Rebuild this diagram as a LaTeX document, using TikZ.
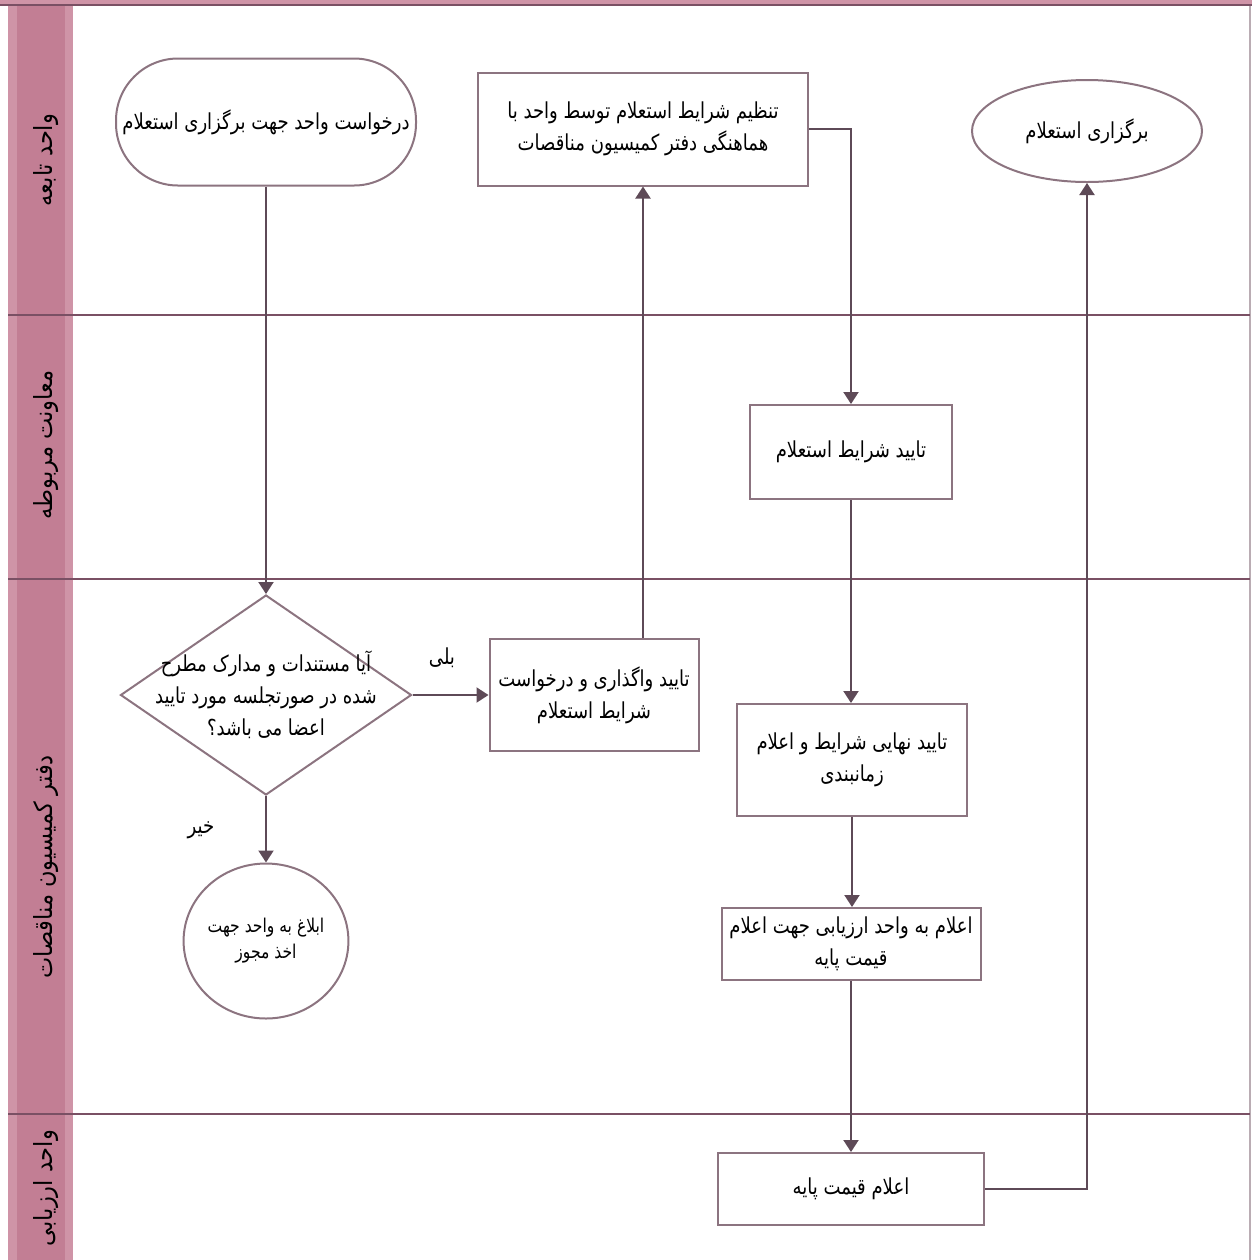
\documentclass[tikz,border=0pt]{standalone}
\usepackage{fontspec}
\TeXXeTstate=1
\newfontfamily\arabicfont[Script=Arabic,FakeStretch=0.82]{DejaVu Sans}
\newfontfamily\lanefont[Script=Arabic,FakeStretch=0.9]{DejaVu Sans}
\usetikzlibrary{shapes.geometric,arrows.meta}

\definecolor{lanepink}{HTML}{CF94A7}
\definecolor{lanepinkd}{HTML}{C27E94}
\definecolor{laneline}{HTML}{7A5064}
\definecolor{nodeline}{HTML}{8C7480}
\definecolor{flow}{HTML}{5E4A57}

% right-to-left line of Persian text
\newcommand{\fa}[1]{\beginR #1\endR}

\tikzset{
  txt/.style={font=\arabicfont\fontsize{11}{16}\selectfont, align=center, text=black},
  stepbox/.style={txt, draw=nodeline, line width=1pt, fill=white, rectangle, inner sep=0pt},
  startbox/.style={stepbox, rounded corners=31pt},
  endshape/.style={txt, draw=nodeline, line width=1pt, fill=white, ellipse, inner sep=0pt},
  decision/.style={draw=nodeline, line width=1pt, fill=white, diamond, inner sep=0pt},
  flowline/.style={draw=flow, line width=1pt, -{Triangle[width=7.5pt,length=6pt]}},
  lanetitle/.style={font=\lanefont\fontsize{12.5}{14}\selectfont, rotate=90, text=black},
  divider/.style={draw=laneline, line width=1pt}
}

\begin{document}
\begin{tikzpicture}[x=0.5pt,y=-0.5pt]
\useasboundingbox (0,0) rectangle (1252,1260);

% header band and lane title column
\fill[lanepink] (0,0) rectangle (1252,5);
\fill[lanepink] (8,5) rectangle (73,1260);
\fill[lanepinkd] (17,5) rectangle (65,1260);
\draw[draw=nodeline!60, line width=0.8pt] (1250,5) -- (1250,1260);

% lane dividers
\draw[divider] (0,5) -- (1252,5);
\draw[divider] (8,315) -- (1250,315);
\draw[divider] (8,579) -- (1250,579);
\draw[divider] (8,1114) -- (1250,1114);

% lane titles
\node[lanetitle] (laneA) at (46,160) {\fa{واحد تابعه}};
\node[lanetitle] (laneB) at (46,445) {\fa{معاونت مربوطه}};
\node[lanetitle] (laneC) at (46,867) {\fa{دفتر کمیسیون مناقصات}};
\node[lanetitle] (laneD) at (46,1188) {\fa{واحد ارزیابی}};

% process steps
\node[startbox, minimum width=150pt, minimum height=63.5pt] (start) at (266,122)
  {\fa{درخواست واحد جهت برگزاری استعلام}};
\node[stepbox, minimum width=165pt, minimum height=56.5pt] (setup) at (643,129)
  {\fa{تنظیم شرایط استعلام توسط واحد با}\\\fa{هماهنگی دفتر کمیسیون مناقصات}};
\node[endshape, minimum width=115pt, minimum height=51pt] (finish) at (1087,131)
  {\fa{برگزاری استعلام}};
\node[stepbox, minimum width=101pt, minimum height=47pt] (approve) at (851,452)
  {\fa{تایید شرایط استعلام}};
\node[decision, minimum width=145.5pt, minimum height=100pt] (check) at (266,695) {};
\node[txt] (checktext) at (266,695)
  {\fa{آیا مستندات و مدارک مطرح}\\\fa{شده در صورتجلسه مورد تایید}\\\fa{اعضا می باشد؟}};
\node[stepbox, minimum width=104.5pt, minimum height=56pt] (assign) at (594,695)
  {\fa{تایید واگذاری و درخواست}\\\fa{شرایط استعلام}};
\node[stepbox, minimum width=115pt, minimum height=56pt] (final) at (852,760)
  {\fa{تایید نهایی شرایط و اعلام}\\\fa{زمانبندی}};
\node[stepbox, minimum width=129.5pt, minimum height=36pt] (notify) at (851,944)
  {\fa{اعلام به واحد ارزیابی جهت اعلام}\\\fa{قیمت پایه}};
\node[endshape, minimum width=71pt, minimum height=77.5pt,
      font=\arabicfont\fontsize{9.5}{13}\selectfont] (reject) at (266,941)
  {\fa{ابلاغ به واحد جهت}\\\fa{اخذ مجوز}};
\node[stepbox, minimum width=133pt, minimum height=36pt] (price) at (851,1189)
  {\fa{اعلام قیمت پایه}};

% connectors
\draw[flowline] (start.south) -- (check.north);
\draw[flowline] (check.east) -- (assign.west);
\node[txt] (yes) at (442,658) {\fa{بلی}};
\draw[flowline] (check.south) -- (reject.north);
\node[txt] (no) at (201,830) {\fa{خیر}};
\draw[flowline] (setup.south |- assign.north) -- (setup.south);
\draw[flowline] (setup.east) -| (approve.north);
\draw[flowline] (approve.south) -- (final.north -| approve.south);
\draw[flowline] (final.south) -- (notify.north -| final.south);
\draw[flowline] (notify.south -| price.north) -- (price.north);
\draw[flowline] (price.east) -| (finish.south);
\end{tikzpicture}
\end{document}
